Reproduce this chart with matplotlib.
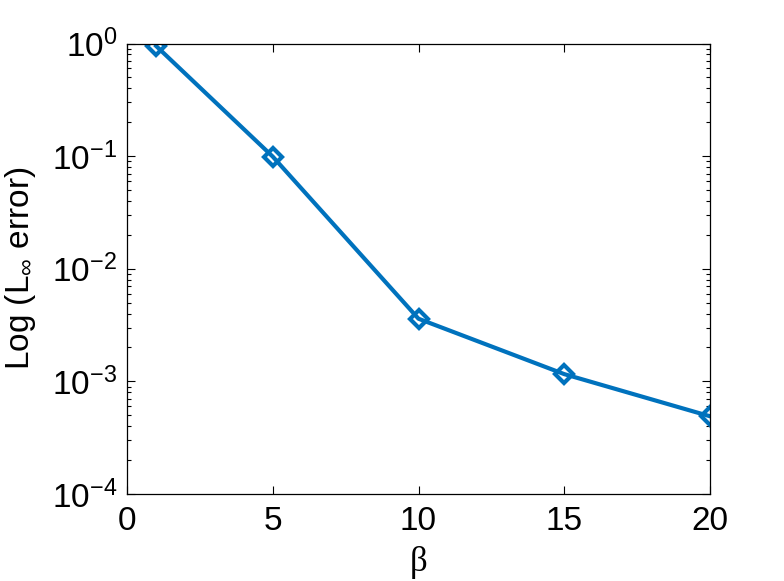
import numpy as np
import matplotlib
matplotlib.use('Agg')
import matplotlib.pyplot as plt
from matplotlib.ticker import LogLocator

# data
beta = [1, 5, 10, 15, 20]
linf_error = [0.95, 0.099, 0.0036, 0.00116, 0.00049]

plt.rcParams['font.family'] = ['Liberation Sans', 'DejaVu Sans']
plt.rcParams['mathtext.fontset'] = 'custom'
plt.rcParams['mathtext.rm'] = 'Liberation Sans'
plt.rcParams['mathtext.it'] = 'Liberation Sans'

fig = plt.figure(figsize=(7.84, 5.81), dpi=100)
ax = fig.add_axes([127/784, 1 - 494/581, (710-127)/784, (494-43.5)/581])

ax.semilogy(beta, linf_error, '-D', color='#0072BD', lw=3.0,
            ms=9.5, mfc='none', mew=3.0)

ax.set_xlim(0, 20)
ax.set_ylim(1e-4, 1e0)
ax.set_xticks([0, 5, 10, 15, 20])
ax.yaxis.set_major_locator(LogLocator(base=10, numticks=10))
ax.yaxis.set_minor_locator(LogLocator(base=10, subs=np.arange(2, 10), numticks=20))

ax.tick_params(which='both', direction='in', top=True, right=True,
               labelsize=24, width=0.8)
ax.tick_params(which='major', length=6)
ax.tick_params(axis='x', which='major', pad=9)
ax.tick_params(axis='y', which='major', pad=7)
ax.tick_params(which='minor', length=3)
for s in ax.spines.values():
    s.set_linewidth(0.9)

ax.set_ylabel(r'Log (L$_\infty$ error)', fontsize=24, labelpad=10)
ax.set_xlabel('β', fontsize=25, family=['Liberation Serif', 'DejaVu Serif'], labelpad=6)

fig.savefig('out.png', dpi=100)
